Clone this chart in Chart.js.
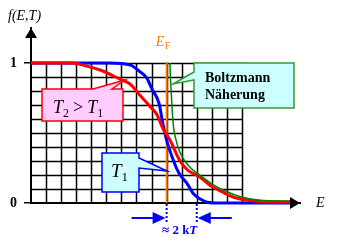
<!DOCTYPE html>
<html>
<head>
<meta charset="utf-8">
<script src="https://cdn.jsdelivr.net/npm/chart.js@4"></script>
<style>
  html, body { margin: 0; padding: 0; background: #fff; }
</style>
</head>
<body>
<canvas id="c1" width="342" height="242"></canvas>
<script>
// Fermi-Dirac f(E,T), x in grid columns (E_F at 9), y = f
var blueT1 = [[0,1],[5.2,1],[6.6,0.985],[7.2,0.94],[7.7,0.89],[8.0,0.82],[8.5,0.71],[8.76,0.56],[9.02,0.44],[9.36,0.33],[9.69,0.24],[9.9,0.2],[10.35,0.14],[10.75,0.07],[11.2,0.03],[11.7,0.006],[12.5,0],[17.2,0]];
var redT2 = [[0,1],[2.8,1],[3.25,0.99],[4.58,0.95],[5.9,0.885],[6.57,0.85],[7.23,0.77],[7.9,0.69],[8.36,0.63],[8.76,0.53],[9.22,0.45],[9.89,0.3],[10.4,0.235],[11.2,0.186],[11.85,0.129],[12.7,0.079],[13.4,0.043],[14.3,0.021],[15.3,0.01],[16,0.008],[17.2,0.008]];
var greenBoltz = [[9.22,1],[9.25,0.9],[9.3,0.8],[9.36,0.68],[9.45,0.55],[9.6,0.46],[9.89,0.36],[10.5,0.26],[11.2,0.2],[12.1,0.13],[13.0,0.08],[13.9,0.045],[15.2,0.02],[17.2,0.014]];
var yTicks = [0, 1];
var yTickLabels = ['0', '1'];
var gridCols = 14;   // vertical grid lines 0..14
var gridRows = 10;   // f from 0 to 1 in steps of 0.1
var fermiE = 9;

function pts(a) { return a.map(function(p){ return {x:p[0], y:p[1]}; }); }

var serif = '"Liberation Serif", "DejaVu Serif", serif';

var drawStuff = {
  id: 'drawStuff',
  beforeDatasetsDraw: function(chart) {
    var c = chart.ctx, xs = chart.scales.x, ys = chart.scales.y;
    c.save();
    // grid
    c.strokeStyle = '#000';
    c.lineWidth = 1.5;
    for (var i = 1; i <= gridCols; i++) {
      var px = Math.round(xs.getPixelForValue(i)) + 0.5;
      c.beginPath(); c.moveTo(px, ys.getPixelForValue(1)); c.lineTo(px, ys.getPixelForValue(0)); c.stroke();
    }
    for (var j = 1; j <= gridRows; j++) {
      var py = Math.round(ys.getPixelForValue(j / gridRows)) + 0.5;
      c.beginPath(); c.moveTo(xs.getPixelForValue(0), py); c.lineTo(xs.getPixelForValue(gridCols), py); c.stroke();
    }
    // E_F line
    var ex = xs.getPixelForValue(fermiE);
    c.strokeStyle = '#ff8000';
    c.lineWidth = 2;
    c.beginPath(); c.moveTo(ex, ys.getPixelForValue(1) - 1); c.lineTo(ex, ys.getPixelForValue(0)); c.stroke();
    c.restore();
  },
  afterDraw: function(chart) {
    var c = chart.ctx, xs = chart.scales.x, ys = chart.scales.y;
    var a = chart.chartArea;
    c.save();
    // axis arrows
    c.fillStyle = '#000';
    c.beginPath(); c.moveTo(a.left - 6, a.top + 10); c.lineTo(a.left + 6, a.top + 10); c.lineTo(a.left, a.top); c.closePath(); c.fill();
    c.beginPath(); c.moveTo(a.right - 10, a.bottom - 6); c.lineTo(a.right - 10, a.bottom + 6); c.lineTo(a.right, a.bottom); c.closePath(); c.fill();

    // axis labels
    c.textBaseline = 'alphabetic';
    c.fillStyle = '#000';
    c.font = 'italic 14px ' + serif;
    c.fillText('f(E,T)', 8, 20);
    c.fillText('E', 316, 207);

    // E_F label
    var ex = xs.getPixelForValue(fermiE);
    c.fillStyle = '#ff8000';
    c.font = 'italic 14px ' + serif;
    c.fillText('E', ex - 11, 46);
    c.font = '10px ' + serif;
    c.fillText('F', ex - 2, 49);

    // 2kT markers
    var bx = ys.getPixelForValue(0);
    var x2 = xs.getPixelForValue(fermiE + 2);
    c.strokeStyle = '#0000ff';
    c.fillStyle = '#0000ff';
    c.lineWidth = 2;
    c.setLineDash([2, 2]);
    c.beginPath(); c.moveTo(ex, bx + 1); c.lineTo(ex, bx + 20); c.stroke();
    c.beginPath(); c.moveTo(x2, bx + 1); c.lineTo(x2, bx + 20); c.stroke();
    c.setLineDash([]);
    var ay = bx + 15;
    c.beginPath(); c.moveTo(ex - 35, ay); c.lineTo(ex - 12, ay); c.stroke();
    c.beginPath(); c.moveTo(ex - 14, ay - 6); c.lineTo(ex - 14, ay + 6); c.lineTo(ex - 1, ay); c.closePath(); c.fill();
    c.beginPath(); c.moveTo(x2 + 12, ay); c.lineTo(x2 + 35, ay); c.stroke();
    c.beginPath(); c.moveTo(x2 + 14, ay - 6); c.lineTo(x2 + 14, ay + 6); c.lineTo(x2 + 1, ay); c.closePath(); c.fill();
    c.font = 'bold 13px ' + serif;
    c.fillText('\u2248 2 k', 162, 234);
    var w = c.measureText('\u2248 2 k').width;
    c.font = 'bold italic 13px ' + serif;
    c.fillText('T', 162 + w, 234);

    // callout T2 > T1
    c.lineWidth = 1.5;
    c.fillStyle = '#ffccff';
    c.strokeStyle = '#ff0000';
    c.beginPath();
    c.moveTo(42, 89); c.lineTo(93, 89); c.lineTo(125, 80); c.lineTo(112, 89);
    c.lineTo(123, 89); c.lineTo(123, 121); c.lineTo(42, 121); c.closePath();
    c.fill(); c.stroke();
    c.fillStyle = '#000';
    var tx = 53;
    c.font = 'italic 18px ' + serif; c.fillText('T', tx, 113); tx += c.measureText('T').width;
    c.font = '12px ' + serif; c.fillText('2', tx, 117); tx += c.measureText('2').width + 4;
    c.font = '18px ' + serif; c.fillText('>', tx, 113); tx += c.measureText('>').width + 4;
    c.font = 'italic 18px ' + serif; c.fillText('T', tx, 113); tx += c.measureText('T').width;
    c.font = '12px ' + serif; c.fillText('1', tx, 117);

    // callout Boltzmann
    c.fillStyle = '#ccffff';
    c.strokeStyle = '#339933';
    c.beginPath();
    c.moveTo(194, 63); c.lineTo(294, 63); c.lineTo(294, 108); c.lineTo(194, 108);
    c.lineTo(194, 80); c.lineTo(173, 84); c.lineTo(194, 72); c.closePath();
    c.fill(); c.stroke();
    c.fillStyle = '#000';
    c.font = 'bold 14px ' + serif;
    c.fillText('Boltzmann', 205, 82);
    c.fillText('N\u00e4herung', 205, 99);

    // callout T1
    c.fillStyle = '#ccffff';
    c.strokeStyle = '#0000ff';
    c.beginPath();
    c.moveTo(102, 153); c.lineTo(139, 153); c.lineTo(139, 158); c.lineTo(167, 171);
    c.lineTo(139, 168); c.lineTo(139, 192); c.lineTo(102, 192); c.closePath();
    c.fill(); c.stroke();
    c.fillStyle = '#000';
    c.font = 'italic 19px ' + serif; c.fillText('T', 111, 177);
    var tw = c.measureText('T').width;
    c.font = '13px ' + serif; c.fillText('1', 111 + tw, 181);
    c.restore();
  }
};

var ctx = document.getElementById('c1').getContext('2d');
var chart1 = new Chart(ctx, {
  type: 'scatter',
  data: {
    datasets: [
      { label: 'Boltzmann', data: pts(greenBoltz), showLine: true, borderColor: '#008000', borderWidth: 1.5, pointRadius: 0, cubicInterpolationMode: 'monotone', clip: 6 },
      { label: 'T2', data: pts(redT2), showLine: true, borderColor: '#ff0000', borderWidth: 3, pointRadius: 0, cubicInterpolationMode: 'monotone', clip: 6 },
      { label: 'T1', data: pts(blueT1), showLine: true, borderColor: '#0000ff', borderWidth: 3, pointRadius: 0, cubicInterpolationMode: 'monotone', clip: 6 }
    ]
  },
  options: {
    responsive: false,
    animation: false,
    events: [],
    layout: { padding: { top: 28, right: 42, left: 0, bottom: 0 } },
    plugins: { legend: { display: false }, tooltip: { enabled: false } },
    scales: {
      x: {
        type: 'linear', min: 0, max: 17.85,
        ticks: { display: false },
        grid: { display: false },
        border: { display: true, color: '#000', width: 2 },
        afterFit: function(s) { s.height = 39; }
      },
      y: {
        min: 0, max: 1.25,
        afterBuildTicks: function(s) { s.ticks = yTicks.map(function(v){ return {value: v}; }); },
        ticks: {
          color: '#000', padding: 7,
          font: { family: serif, size: 14, weight: 'bold' },
          callback: function(v) { return yTickLabels[yTicks.indexOf(v)]; }
        },
        grid: { drawOnChartArea: false, tickLength: 7, color: '#000', lineWidth: 1.5 },
        border: { display: true, color: '#000', width: 2 },
        afterFit: function(s) { s.width = 31; }
      }
    }
  },
  plugins: [drawStuff]
});
</script>
</body>
</html>
